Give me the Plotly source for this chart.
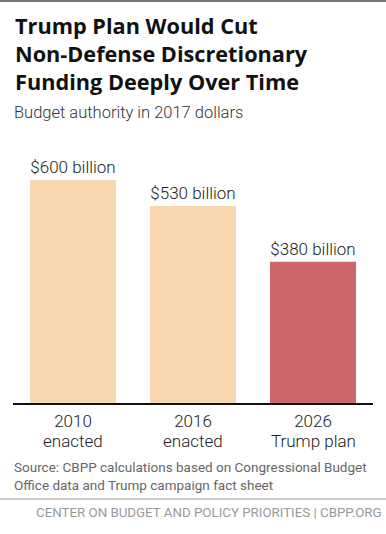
import plotly.graph_objects as go

years = ["2010", "2016", "2026"]
sublabels = ["enacted", "enacted", "Trump plan"]
values = [600, 530, 380]
labels = ["$600 billion", "$530 billion", "$380 billion"]
bar_colors = ["#F7D7B0", "#F7D7B0", "#CE676C"]

W, H = 386, 534
ml, mr, mt, mb = 13, 13, 130, 131
plot_h = H - mt - mb
ymax = 600 * plot_h / 223.0

def py(pix):
    return (H - mb - pix) / plot_h

def px(pix):
    return (pix - ml) / (W - ml - mr)

fig = go.Figure()
fig.add_trace(go.Bar(
    x=years, y=values, marker=dict(color=bar_colors, line=dict(width=0)),
    text=labels, textposition="outside", cliponaxis=False,
    textfont=dict(family="Roboto", size=17, color="#222", weight=300),
    hoverinfo="skip",
))

annotations = [
    dict(text="Trump Plan Would Cut<br>Non-Defense Discretionary<br>Funding Deeply Over Time",
         xref="paper", yref="paper", x=px(13), y=py(9), xanchor="left", yanchor="top",
         showarrow=False, align="left",
         font=dict(family="Open Sans", size=21.7, color="#111", weight=700)),
    dict(text="Budget authority in 2017 dollars",
         xref="paper", yref="paper", x=px(12), y=py(101), xanchor="left", yanchor="top",
         showarrow=False, align="left",
         font=dict(family="Roboto", size=16.5, color="#333", weight=300)),
    dict(text="Source: CBPP calculations based on Congressional Budget<br>Office data and Trump campaign fact sheet",
         xref="paper", yref="paper", x=px(12), y=py(457), xanchor="left", yanchor="top",
         showarrow=False, align="left",
         font=dict(family="Roboto", size=13.5, color="#666")),
    dict(text="CENTER ON BUDGET AND POLICY PRIORITIES | CBPP.ORG",
         xref="paper", yref="paper", x=px(384), y=py(503), xanchor="right", yanchor="top",
         showarrow=False, align="right",
         font=dict(family="Roboto", size=13.3, color="#999")),
]
for i, sub in enumerate(sublabels):
    annotations.append(dict(text=sub, xref="x", yref="paper", x=i, y=py(441),
                            xanchor="center", yanchor="middle", showarrow=False, borderpad=0,
                            font=dict(family="Roboto", size=17, color="#222", weight=300)))

fig.update_layout(
    width=W, height=H,
    margin=dict(l=ml, r=mr, t=mt, b=mb),
    paper_bgcolor="white", plot_bgcolor="white",
    bargap=0.283, showlegend=False,
    xaxis=dict(showline=True, linecolor="#111", linewidth=2, ticks="",
               tickfont=dict(family="Roboto", size=17, color="#222", weight=300),
               ticklabelstandoff=2, type="category",
               showgrid=False, fixedrange=True),
    yaxis=dict(range=[0, ymax], visible=False, showgrid=False, fixedrange=True),
    annotations=annotations,
    shapes=[
        dict(type="line", xref="paper", yref="paper", x0=px(0), x1=px(386), y0=py(1), y1=py(1),
             line=dict(color="#777", width=2)),
        dict(type="line", xref="paper", yref="paper", x0=px(0), x1=px(386), y0=py(499), y1=py(499),
             line=dict(color="#999", width=1)),
    ],
)

fig.write_html("out.html", config={"displayModeBar": False},
               post_script="document.body.style.margin='0';document.body.style.overflow='hidden';")
